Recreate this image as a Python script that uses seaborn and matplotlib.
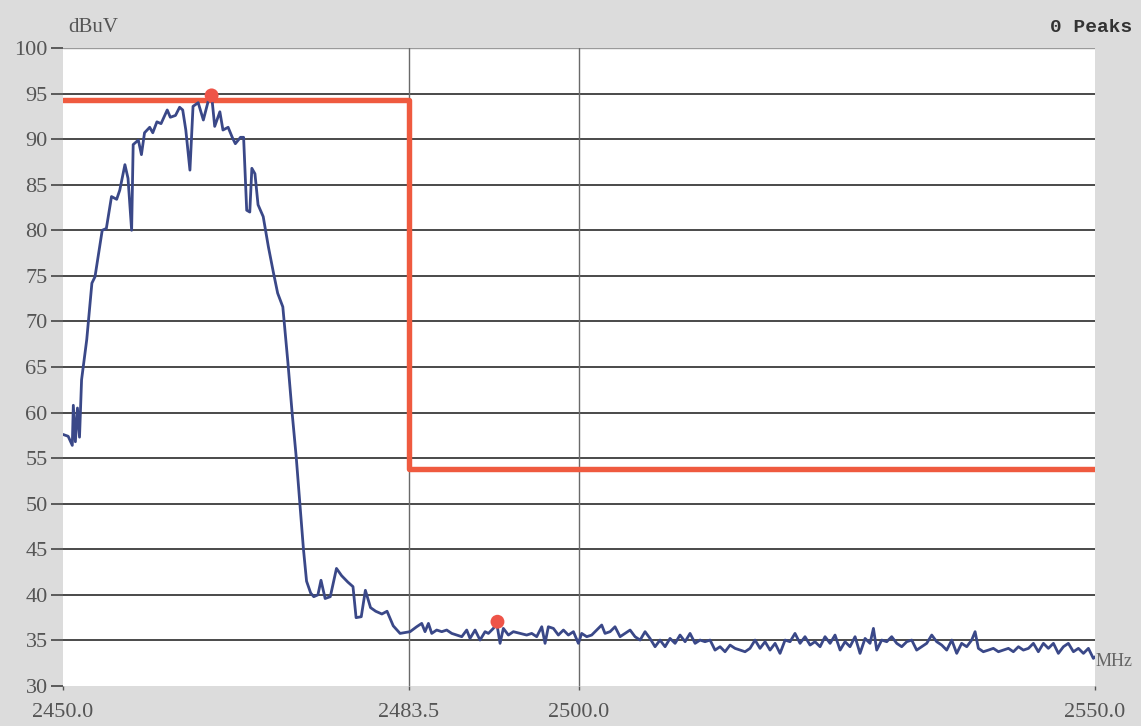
import seaborn as sns
import matplotlib.pyplot as plt
import pandas as pd

# trace (MHz, dBuV)
freq = [2450.0, 2450.5, 2450.9, 2451.0, 2451.2, 2451.4, 2451.6, 2451.8, 2452.3, 2452.8,
        2453.1, 2453.8, 2454.2, 2454.7, 2455.2, 2455.5, 2456.0, 2456.3, 2456.65, 2456.8,
        2457.3, 2457.6, 2457.9, 2458.4, 2458.7, 2459.1, 2459.5, 2460.1, 2460.4, 2460.9,
        2461.3, 2461.6, 2461.9, 2462.3, 2462.6, 2463.1, 2463.6, 2464.1, 2464.4, 2464.7,
        2465.2, 2465.5, 2466.0, 2466.4, 2466.7, 2467.2, 2467.5, 2467.8, 2468.1, 2468.3,
        2468.6, 2468.9, 2469.4, 2469.9, 2470.4, 2470.8, 2471.3, 2471.8, 2472.2, 2472.6,
        2473.0, 2473.3, 2473.6, 2474.0, 2474.3, 2474.7, 2475.0, 2475.4, 2475.9, 2476.5,
        2477.0, 2477.6, 2478.1, 2478.4, 2478.9, 2479.3, 2479.8, 2480.3, 2480.9, 2481.4,
        2482.0, 2482.66, 2483.63, 2484.27, 2484.76, 2485.08, 2485.41, 2485.73, 2486.21, 2486.70,
        2487.18, 2487.67, 2488.15, 2488.64, 2489.12, 2489.44, 2489.93, 2490.41, 2490.90, 2491.22,
        2491.70, 2492.03, 2492.35, 2492.67, 2493.16, 2493.64, 2494.29, 2494.93, 2495.42, 2495.90,
        2496.39, 2496.71, 2497.03, 2497.52, 2498.00, 2498.49, 2498.97, 2499.46, 2499.94, 2500.26,
        2500.75, 2501.23, 2501.72, 2502.20, 2502.52, 2503.01, 2503.49, 2503.98, 2504.46, 2504.95,
        2505.43, 2505.92, 2506.40, 2506.88, 2507.37, 2507.85, 2508.34, 2508.82, 2509.31, 2509.79,
        2510.28, 2510.76, 2511.25, 2511.73, 2512.21, 2512.70, 2513.18, 2513.67, 2514.15, 2514.64,
        2515.12, 2515.61, 2516.09, 2516.57, 2517.06, 2517.54, 2518.03, 2518.51, 2519.00, 2519.48,
        2519.97, 2520.45, 2520.93, 2521.42, 2521.90, 2522.39, 2522.87, 2523.36, 2523.84, 2524.33,
        2524.81, 2525.30, 2525.78, 2526.26, 2526.75, 2527.23, 2527.72, 2528.20, 2528.53, 2528.85,
        2529.33, 2529.82, 2530.30, 2530.79, 2531.27, 2531.76, 2532.24, 2532.72, 2533.21, 2533.69,
        2534.18, 2534.66, 2535.15, 2535.63, 2536.12, 2536.60, 2537.08, 2537.57, 2538.05, 2538.38,
        2538.70, 2539.18, 2539.67, 2540.15, 2540.64, 2541.12, 2541.61, 2542.09, 2542.58, 2543.06,
        2543.55, 2544.03, 2544.51, 2545.00, 2545.48, 2545.97, 2546.45, 2546.94, 2547.42, 2547.91,
        2548.39, 2548.88, 2549.36, 2549.84, 2550.0]
level = [57.6, 57.4, 56.4, 60.8, 56.8, 60.5, 57.3, 63.6, 68.0, 74.2,
         74.9, 80.0, 80.2, 83.7, 83.4, 84.4, 87.2, 85.7, 80.0, 89.4,
         89.9, 88.3, 90.7, 91.3, 90.7, 91.9, 91.7, 93.2, 92.4, 92.6,
         93.5, 93.2, 91.0, 86.6, 93.6, 94.0, 92.1, 94.3, 94.8, 91.4,
         93.0, 91.0, 91.3, 90.2, 89.5, 90.2, 90.2, 82.2, 82.0, 86.8,
         86.2, 82.8, 81.5, 78.2, 75.3, 73.1, 71.6, 65.4, 60.0, 55.1,
         49.3, 45.0, 41.5, 40.2, 39.8, 40.0, 41.6, 39.6, 39.8, 42.9,
         42.1, 41.4, 40.9, 37.5, 37.6, 40.5, 38.6, 38.2, 37.9, 38.2,
         36.6, 35.77, 35.96, 36.50, 36.87, 35.96, 36.87, 35.77, 36.14, 35.96,
         36.14, 35.77, 35.59, 35.41, 36.14, 35.22, 36.14, 35.04, 35.96, 35.77,
         36.32, 36.87, 34.68, 36.32, 35.59, 35.96, 35.77, 35.59, 35.77, 35.41,
         36.50, 34.68, 36.50, 36.32, 35.59, 36.14, 35.59, 35.96, 34.68, 35.77,
         35.41, 35.59, 36.14, 36.69, 35.77, 35.96, 36.50, 35.41, 35.77, 36.14,
         35.41, 35.04, 35.96, 35.22, 34.31, 35.04, 34.31, 35.22, 34.68, 35.59,
         34.86, 35.77, 34.68, 35.04, 34.86, 35.04, 33.94, 34.31, 33.76, 34.49,
         34.13, 33.94, 33.76, 34.13, 35.04, 34.13, 34.86, 33.94, 34.68, 33.58,
         35.04, 34.86, 35.77, 34.68, 35.41, 34.49, 34.86, 34.31, 35.41, 34.68,
         35.59, 33.94, 34.86, 34.31, 35.41, 33.58, 35.22, 34.68, 36.32, 33.94,
         35.04, 34.86, 35.41, 34.68, 34.31, 34.86, 35.04, 33.94, 34.31, 34.68,
         35.59, 34.86, 34.49, 33.94, 35.04, 33.58, 34.68, 34.31, 35.04, 35.96,
         34.13, 33.76, 33.94, 34.13, 33.76, 33.94, 34.13, 33.76, 34.31, 33.94,
         34.13, 34.68, 33.76, 34.68, 34.13, 34.68, 33.58, 34.31, 34.68, 33.76,
         34.13, 33.58, 34.13, 33.03, 33.2]

# limit mask
limit_freq = [2450.0, 2483.5, 2483.5, 2550.0]
limit_level = [94.3, 94.3, 53.8, 53.8]

# marker points
peak_freq = [2464.4, 2492.1]
peak_level = [94.8, 37.05]

xticks = [2450.0, 2483.5, 2500.0, 2550.0]
xtick_labels = ["2450.0", "2483.5", "2500.0", "2550.0"]
yticks = list(range(30, 101, 5))

trace = pd.DataFrame({"MHz": freq, "dBuV": level})
mask = pd.DataFrame({"MHz": limit_freq, "dBuV": limit_level})
peaks = pd.DataFrame({"MHz": peak_freq, "dBuV": peak_level})

sns.set_theme(style="white")
plt.rcParams["font.family"] = ["Liberation Serif", "DejaVu Serif"]

fig = plt.figure(figsize=(11.41, 7.26), dpi=100)
fig.patch.set_facecolor("#dcdcdc")
ax = fig.add_axes([63 / 1141, 40 / 726, 1032 / 1141, 638 / 726])
ax.set_facecolor("white")

# grid lines like the analyzer screen
for y in yticks[1:-1]:
    ax.axhline(y, color="#4a4a4a", lw=1.4, zorder=1)
ax.axhline(100, color="#9a9a9a", lw=1.0, zorder=1)
for x in [2483.5, 2500.0]:
    ax.axvline(x, color="#6a6a6a", lw=1.0, zorder=1)

sns.lineplot(data=mask, x="MHz", y="dBuV", ax=ax, color="#ef5a3f", lw=3.9,
             estimator=None, sort=False, zorder=3)
sns.lineplot(data=trace, x="MHz", y="dBuV", ax=ax, color="#3a4888", lw=2.0,
             estimator=None, sort=False, zorder=4)
sns.scatterplot(data=peaks, x="MHz", y="dBuV", ax=ax, color="#ee5448", s=100,
                edgecolor="none", zorder=5)

ax.set_xlim(2450, 2550)
ax.set_ylim(30, 100)
ax.set_xticks(xticks)
ax.set_xticklabels(xtick_labels)
ax.set_yticks(yticks)
ax.tick_params(axis="y", length=9, width=1.2, color="#444444", labelsize=16,
               labelcolor="#555555", pad=2, left=True)
ax.tick_params(axis="x", length=3, width=1.0, color="#555555", labelsize=16,
               labelcolor="#555555", pad=9, bottom=True)
ax.set_xlabel("")
ax.set_ylabel("")
for s in ax.spines.values():
    s.set_visible(False)

fig.text(68 / 1141, 1 - 28 / 726, "dBuV", fontsize=15, color="#555555", va="center")
fig.text(1132 / 1141, 1 - 27 / 726, "0 Peaks", fontsize=14, color="#333333",
         va="center", ha="right", fontweight="bold",
         family=["Liberation Mono", "DejaVu Sans Mono"])
fig.text(1096 / 1141, 1 - 661 / 726, "MHz", fontsize=13, color="#666666", va="center")

plt.savefig("out.png", dpi=100, facecolor=fig.get_facecolor())
